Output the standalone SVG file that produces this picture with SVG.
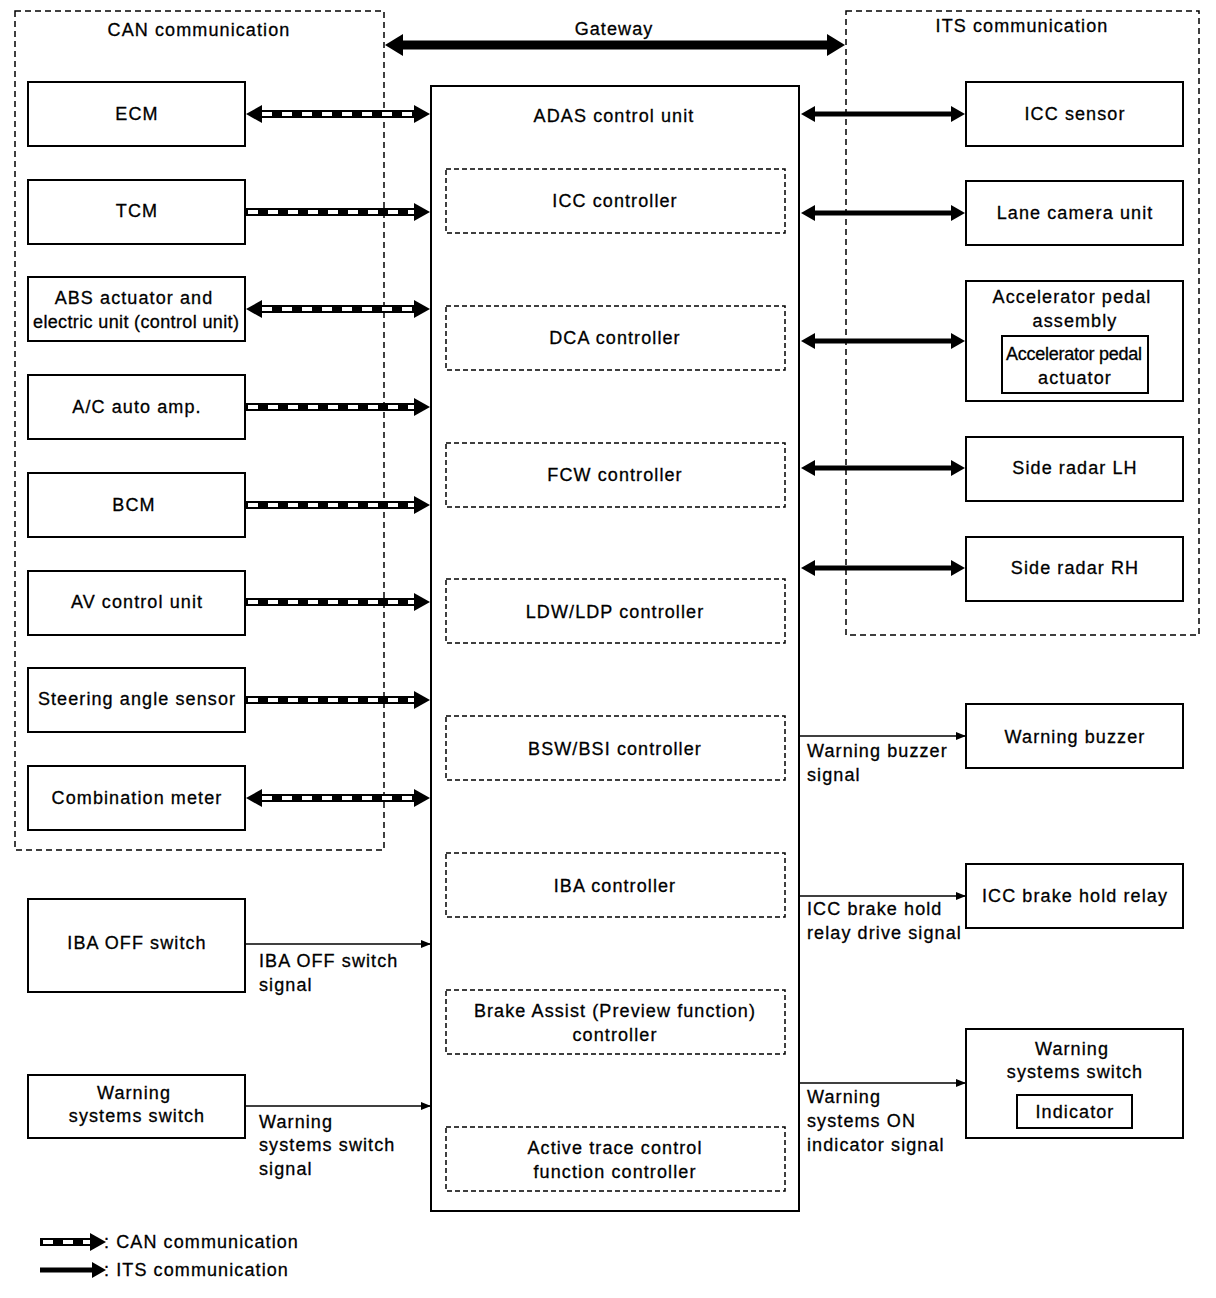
<svg xmlns="http://www.w3.org/2000/svg" width="1216" height="1298" viewBox="0 0 1216 1298">
<style>
text{font-family:"Liberation Sans",Arial,sans-serif;font-size:18px;letter-spacing:1.1px;fill:#000;stroke:#000;stroke-width:0.3}
.c{text-anchor:middle}
.box{fill:#fff;stroke:#000;stroke-width:2}
.dbox{fill:none;stroke:#000;stroke-width:1.5;stroke-dasharray:5 3}
.grp{fill:none;stroke:#000;stroke-width:1.5;stroke-dasharray:6 4}
.can{stroke:#000;stroke-width:8;fill:none}
.canw{stroke:#fff;stroke-width:4;stroke-dasharray:10 10;fill:none}
.its{stroke:#000;stroke-width:5;fill:none}
.sig{stroke:#000;stroke-width:1.5;fill:none}
</style>
<defs>
<marker id="hc" markerUnits="userSpaceOnUse" markerWidth="16" markerHeight="18" refX="0" refY="9" orient="auto-start-reverse"><path d="M0,0L16,9L0,18Z" fill="#000"/></marker>
<marker id="hi" markerUnits="userSpaceOnUse" markerWidth="14" markerHeight="16" refX="0" refY="8" orient="auto-start-reverse"><path d="M0,0L14,8L0,16Z" fill="#000"/></marker>
<marker id="hg" markerUnits="userSpaceOnUse" markerWidth="18" markerHeight="22" refX="0" refY="11" orient="auto-start-reverse"><path d="M0,0L18,11L0,22Z" fill="#000"/></marker>
<marker id="hs" markerUnits="userSpaceOnUse" markerWidth="10" markerHeight="8" refX="10" refY="4" orient="auto"><path d="M0,0L10,4L0,8Z" fill="#000"/></marker>
</defs>
<rect width="1216" height="1298" fill="#fff"/>

<g id="can-group"><rect class="grp" x="15" y="11" width="369" height="839"/><text class="c" x="199" y="36">CAN communication</text></g>
<g id="its-group"><rect class="grp" x="846" y="11" width="353" height="624"/><text class="c" x="1022" y="32">ITS communication</text></g>

<g id="connectors">
<line class="its" x1="403" y1="45" x2="827" y2="45" style="stroke-width:9" marker-start="url(#hg)" marker-end="url(#hg)"/>
<text class="c" x="614" y="35">Gateway</text>
<line class="can" x1="262" y1="114" x2="414" y2="114" marker-start="url(#hc)" marker-end="url(#hc)"/><line class="canw" x1="262" y1="114" x2="414" y2="114"/>
<line class="can" x1="246" y1="212" x2="414" y2="212" marker-end="url(#hc)"/><line class="canw" x1="248" y1="212" x2="414" y2="212"/>
<line class="can" x1="262" y1="309" x2="414" y2="309" marker-start="url(#hc)" marker-end="url(#hc)"/><line class="canw" x1="262" y1="309" x2="414" y2="309"/>
<line class="can" x1="246" y1="407" x2="414" y2="407" marker-end="url(#hc)"/><line class="canw" x1="248" y1="407" x2="414" y2="407"/>
<line class="can" x1="246" y1="505" x2="414" y2="505" marker-end="url(#hc)"/><line class="canw" x1="248" y1="505" x2="414" y2="505"/>
<line class="can" x1="246" y1="602" x2="414" y2="602" marker-end="url(#hc)"/><line class="canw" x1="248" y1="602" x2="414" y2="602"/>
<line class="can" x1="246" y1="700" x2="414" y2="700" marker-end="url(#hc)"/><line class="canw" x1="248" y1="700" x2="414" y2="700"/>
<line class="can" x1="262" y1="798" x2="414" y2="798" marker-start="url(#hc)" marker-end="url(#hc)"/><line class="canw" x1="262" y1="798" x2="414" y2="798"/>
<line class="its" x1="815" y1="114" x2="951" y2="114" marker-start="url(#hi)" marker-end="url(#hi)"/>
<line class="its" x1="815" y1="213" x2="951" y2="213" marker-start="url(#hi)" marker-end="url(#hi)"/>
<line class="its" x1="815" y1="341" x2="951" y2="341" marker-start="url(#hi)" marker-end="url(#hi)"/>
<line class="its" x1="815" y1="468" x2="951" y2="468" marker-start="url(#hi)" marker-end="url(#hi)"/>
<line class="its" x1="815" y1="568" x2="951" y2="568" marker-start="url(#hi)" marker-end="url(#hi)"/>
<line class="sig" x1="800" y1="736" x2="966" y2="736" marker-end="url(#hs)"/>
<text x="807" y="757">Warning buzzer</text><text x="807" y="781">signal</text>
<line class="sig" x1="800" y1="896" x2="966" y2="896" marker-end="url(#hs)"/>
<text x="807" y="915">ICC brake hold</text><text x="807" y="939">relay drive signal</text>
<line class="sig" x1="800" y1="1083" x2="966" y2="1083" marker-end="url(#hs)"/>
<text x="807" y="1103">Warning</text><text x="807" y="1127">systems ON</text><text x="807" y="1151">indicator signal</text>
<line class="sig" x1="246" y1="944" x2="431" y2="944" marker-end="url(#hs)"/>
<text x="259" y="967">IBA OFF switch</text><text x="259" y="991">signal</text>
<line class="sig" x1="246" y1="1106" x2="431" y2="1106" marker-end="url(#hs)"/>
<text x="259" y="1128">Warning</text><text x="259" y="1151">systems switch</text><text x="259" y="1175">signal</text>
</g>

<g id="ecm"><rect class="box" x="28" y="82" width="217" height="64"/><text class="c" x="137" y="120">ECM</text></g>
<g id="tcm"><rect class="box" x="28" y="180" width="217" height="64"/><text class="c" x="137" y="217">TCM</text></g>
<g id="abs"><rect class="box" x="28" y="277" width="217" height="64"/><text class="c" x="134" y="304">ABS actuator and</text><text x="33" y="328" textLength="207" lengthAdjust="spacing">electric unit (control unit)</text></g>
<g id="ac"><rect class="box" x="28" y="375" width="217" height="64"/><text class="c" x="137" y="413">A/C auto amp.</text></g>
<g id="bcm"><rect class="box" x="28" y="473" width="217" height="64"/><text class="c" x="134" y="511">BCM</text></g>
<g id="av"><rect class="box" x="28" y="571" width="217" height="64"/><text class="c" x="137" y="608">AV control unit</text></g>
<g id="steer"><rect class="box" x="28" y="668" width="217" height="64"/><text class="c" x="137" y="705">Steering angle sensor</text></g>
<g id="comb"><rect class="box" x="28" y="766" width="217" height="64"/><text class="c" x="137" y="804">Combination meter</text></g>
<g id="ibaoff"><rect class="box" x="28" y="899" width="217" height="93"/><text class="c" x="137" y="949">IBA OFF switch</text></g>
<g id="wss"><rect class="box" x="28" y="1075" width="217" height="63"/><text class="c" x="134" y="1099">Warning</text><text class="c" x="137" y="1122">systems switch</text></g>

<g id="adas">
<rect class="box" x="431" y="86" width="368" height="1125"/>
<text class="c" x="614" y="122">ADAS control unit</text>
<rect class="dbox" x="446" y="169" width="339" height="64"/><text class="c" x="615" y="207">ICC controller</text>
<rect class="dbox" x="446" y="306" width="339" height="64"/><text class="c" x="615" y="344">DCA controller</text>
<rect class="dbox" x="446" y="443" width="339" height="64"/><text class="c" x="615" y="481">FCW controller</text>
<rect class="dbox" x="446" y="579" width="339" height="64"/><text class="c" x="615" y="618">LDW/LDP controller</text>
<rect class="dbox" x="446" y="716" width="339" height="64"/><text class="c" x="615" y="755">BSW/BSI controller</text>
<rect class="dbox" x="446" y="853" width="339" height="64"/><text class="c" x="615" y="892">IBA controller</text>
<rect class="dbox" x="446" y="990" width="339" height="64"/><text class="c" x="615" y="1017">Brake Assist (Preview function)</text><text class="c" x="615" y="1041">controller</text>
<rect class="dbox" x="446" y="1127" width="339" height="64"/><text class="c" x="615" y="1154">Active trace control</text><text class="c" x="615" y="1178">function controller</text>
</g>

<g id="iccsensor"><rect class="box" x="966" y="82" width="217" height="64"/><text class="c" x="1075" y="120">ICC sensor</text></g>
<g id="lane"><rect class="box" x="966" y="181" width="217" height="64"/><text class="c" x="1075" y="219">Lane camera unit</text></g>
<g id="accel"><rect class="box" x="966" y="281" width="217" height="120"/><text class="c" x="1072" y="303">Accelerator pedal</text><text class="c" x="1075" y="327">assembly</text>
<rect class="box" x="1002" y="336" width="146" height="57"/><text x="1006" y="360" textLength="137" lengthAdjust="spacing">Accelerator pedal</text><text class="c" x="1075" y="384">actuator</text></g>
<g id="sradarlh"><rect class="box" x="966" y="437" width="217" height="64"/><text class="c" x="1075" y="474">Side radar LH</text></g>
<g id="sradarrh"><rect class="box" x="966" y="537" width="217" height="64"/><text class="c" x="1075" y="574">Side radar RH</text></g>
<g id="buzzer"><rect class="box" x="966" y="704" width="217" height="64"/><text class="c" x="1075" y="743">Warning buzzer</text></g>
<g id="relay"><rect class="box" x="966" y="864" width="217" height="64"/><text class="c" x="1075" y="902">ICC brake hold relay</text></g>
<g id="wss2"><rect class="box" x="966" y="1029" width="217" height="109"/><text class="c" x="1072" y="1055">Warning</text><text class="c" x="1075" y="1078">systems switch</text>
<rect class="box" x="1017" y="1095" width="115" height="33"/><text class="c" x="1075" y="1118">Indicator</text></g>

<g id="legend">
<line class="can" x1="40" y1="1242" x2="90" y2="1242" marker-end="url(#hc)"/><line class="canw" x1="43" y1="1242" x2="90" y2="1242"/>
<text x="104" y="1248">: CAN communication</text>
<line class="its" x1="40" y1="1270" x2="92" y2="1270" marker-end="url(#hi)"/>
<text x="104" y="1276">: ITS communication</text>
</g>
</svg>
